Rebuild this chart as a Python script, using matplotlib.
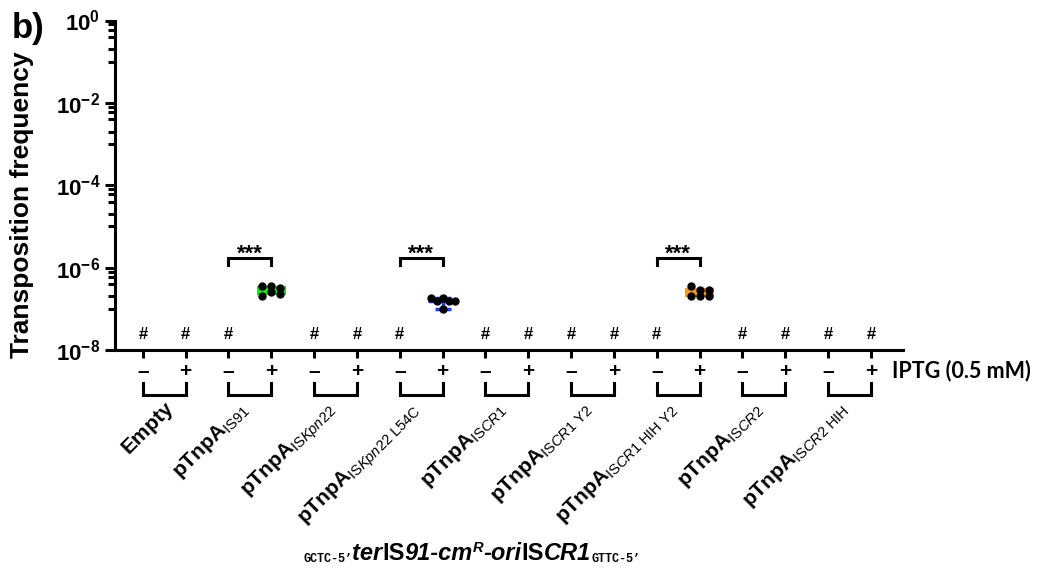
import numpy as np
import matplotlib
matplotlib.use('Agg')
import matplotlib.pyplot as plt
from matplotlib.ticker import FixedLocator, FixedFormatter, NullFormatter

plt.rcParams['font.family'] = ['Liberation Sans', 'DejaVu Sans']
plt.rcParams['mathtext.fontset'] = 'custom'
plt.rcParams['mathtext.rm'] = 'Liberation Sans'
plt.rcParams['mathtext.it'] = 'Liberation Sans:italic'
plt.rcParams['mathtext.bf'] = 'Liberation Sans:bold'

# plasmids (each tested without / with IPTG)
plasmids = [r'$\mathbf{Empty}$',
            r'$\mathbf{pTnpA}_{\mathrm{IS91}}$',
            r'$\mathbf{pTnpA}_{\mathrm{IS}\mathit{Kpn}\mathrm{22}}$',
            r'$\mathbf{pTnpA}_{\mathrm{IS}\mathit{Kpn}\mathrm{22\ L54C}}$',
            r'$\mathbf{pTnpA}_{\mathrm{IS}\mathit{CR1}}$',
            r'$\mathbf{pTnpA}_{\mathrm{IS}\mathit{CR1}\mathrm{\ Y2}}$',
            r'$\mathbf{pTnpA}_{\mathrm{IS}\mathit{CR1}\mathrm{\ HIH\ Y2}}$',
            r'$\mathbf{pTnpA}_{\mathrm{IS}\mathit{CR2}}$',
            r'$\mathbf{pTnpA}_{\mathrm{IS}\mathit{CR2}\mathrm{\ HIH}}$']
iptg = ['–', '+']

# transposition frequencies of the conditions where something was detected
freq_is91 = [3.5e-7, 3.5e-7, 3.2e-7, 2.6e-7, 2.3e-7, 2.0e-7]
freq_l54c = [1.84e-7, 1.58e-7, 1.84e-7, 1.58e-7, 1.58e-7, 1.0e-7]
freq_hih_y2 = [3.5e-7, 2.9e-7, 2.9e-7, 2.0e-7, 2.0e-7, 2.0e-7]
detected_idx = [3, 7, 13]
sig_pairs = [(2, 3), (6, 7), (12, 13)]
sig_text = '***'

# horizontal jitter of the dots
jit_is91 = [-0.21, 0, 0.21, 0, 0.21, -0.21]
jit_l54c = [-0.28, -0.14, 0, 0.14, 0.28, 0]
jit_hih_y2 = [-0.21, 0, 0.21, -0.21, 0, 0.21]

green = '#19e619'
blue = '#1f3fff'
orange = '#ff9a1a'

W, H = 1041, 573
fig = plt.figure(figsize=(W / 100, H / 100), dpi=100)
ax = fig.add_axes([115 / W, 1 - 350 / H, (903 - 115) / W, (350 - 20.5) / H])

n = len(plasmids) * 2
xs = np.arange(n)
ax.set_yscale('log')
ax.set_ylim(1e-8, 1)
ax.set_xlim(-0.65, 17.75)

# boxes (mean +/- SD) with dots
for idx, vals, jit, col in [(3, freq_is91, jit_is91, green), (13, freq_hih_y2, jit_hih_y2, orange)]:
    v = np.array(vals)
    m, sd = v.mean(), v.std(ddof=1)
    ax.bar(idx, 2 * sd, bottom=m - sd, width=0.68, color=col, zorder=2)
    ax.plot(idx + np.array(jit), v, 'o', color='k', ms=5, zorder=3)

# mean with range bar
v = np.array(freq_l54c)
m = v.mean()
ax.hlines(m, 7 - 0.33, 7 + 0.33, color=blue, lw=2.5, zorder=2)
ax.errorbar(7, m, yerr=[[m - v.min()], [v.max() - m]], color=blue, lw=2.5,
            capsize=6, capthick=2.5, zorder=2)
ax.plot(7 + np.array(jit_l54c), v, 'o', color='k', ms=5, zorder=3)

# not detected
xt = ax.get_xaxis_transform()
for i in xs:
    if i not in detected_idx:
        ax.text(i, 0.025, '#', transform=xt, ha='center', va='bottom',
                fontsize=12, fontweight='bold')

# significance brackets
for a, b in sig_pairs:
    ax.plot([a, a, b, b], [0.258, 0.280, 0.280, 0.258], transform=xt, color='k',
            lw=2.2, clip_on=False, solid_joinstyle='miter')
    ax.text((a + b) / 2, 0.274, sig_text, transform=xt, ha='center', va='baseline',
            fontsize=16, fontweight='bold')

# axes style
for s in ['top', 'right']:
    ax.spines[s].set_visible(False)
for s in ['left', 'bottom']:
    ax.spines[s].set_linewidth(2.2)
ax.set_xticks(xs)
ax.set_xticklabels([])
ax.tick_params(axis='x', length=6, width=2.2)
ax.yaxis.set_major_locator(FixedLocator([1, 1e-2, 1e-4, 1e-6, 1e-8]))
ax.yaxis.set_major_formatter(FixedFormatter([r'$\mathbf{10^{0}}$', r'$\mathbf{10^{-2}}$',
                                             r'$\mathbf{10^{-4}}$', r'$\mathbf{10^{-6}}$',
                                             r'$\mathbf{10^{-8}}$']))
minor = [f * 10.0 ** d for d in [0, -2, -4, -6] for f in [0.8, 0.6, 0.4, 0.2, 0.1]]
ax.yaxis.set_minor_locator(FixedLocator(minor))
ax.yaxis.set_minor_formatter(NullFormatter())
ax.tick_params(axis='y', which='major', length=7.5, width=2.2, labelsize=16, pad=3)
ax.tick_params(axis='y', which='minor', length=5, width=2.2)
ax.set_ylabel('Transposition frequency', fontsize=19, fontweight='bold')
ax.yaxis.set_label_coords(-0.103, 0.44)

# IPTG signs, pair brackets and plasmid names below the axis
for i in xs:
    ax.text(i, -0.064, iptg[i % 2], transform=xt, ha='center', va='center',
            fontsize=15, fontweight='bold', clip_on=False)
for k, name in enumerate(plasmids):
    a, b = 2 * k, 2 * k + 1
    ax.plot([a, a, b, b], [-0.100, -0.1366, -0.1366, -0.100], transform=xt, color='k',
            lw=2.2, clip_on=False, solid_joinstyle='miter')
    shift = 0.28 if '_' in name else 0
    ax.text(a + 0.5 - shift, -0.146, name, transform=xt, ha='right', va='top', rotation=45,
            rotation_mode='anchor', fontsize=15)
ax.text(17.5, -0.061, 'IPTG (0.5 mM)', transform=xt, ha='left', va='center',
        fontsize=15.5, fontweight='bold', family='Lato')

fig.text(12 / W, 1 - 12 / H, 'b)', fontsize=25, fontweight='bold', va='top')

# construct name built from pieces
fig.canvas.draw()
r = fig.canvas.get_renderer()
base = H - 560
mono = dict(family='Liberation Mono', fontsize=8.5, fontweight='bold')
bi = dict(fontsize=17, fontweight='bold', style='italic')
bu = dict(fontsize=17, fontweight='bold')
pieces = [('GCTC-5’', mono, -2), ('ter', bi, 0), ('IS', bu, 0), ('91-cm', bi, 0),
          ('R', dict(fontsize=10.5, fontweight='bold', style='italic'), 8),
          ('-ori', bi, 0), ('IS', bu, 0), ('CR1', bi, 0), ('GTTC-5’', mono, -2)]
x = 303
for s, props, dy in pieces:
    t = fig.text(x / W, (base + dy) / H, s, ha='left', va='baseline', **props)
    x = t.get_window_extent(r).x1

fig.savefig('out.png', dpi=100)
